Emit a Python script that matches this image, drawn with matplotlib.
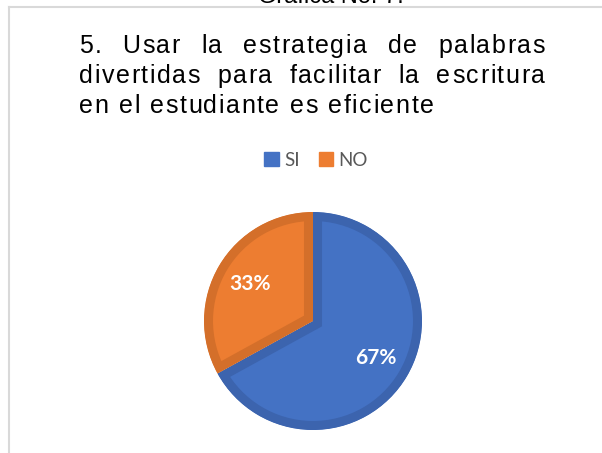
import matplotlib
matplotlib.use("Agg")
import matplotlib.pyplot as plt
from matplotlib.patches import Patch
from matplotlib.lines import Line2D

# data
labels = ["SI", "NO"]
values = [67, 33]
colors = ["#4472C4", "#ED7D31"]
edge_colors = ["#3C64AE", "#D46F2A"]
title_lines = ["5. Usar la estrategia de palabras",
               "divertidas para facilitar la escritura",
               "en el estudiante es eficiente"]
top_caption = "Gráfica No. 7."

W, H = 602, 453
fig = plt.figure(figsize=(W / 100, H / 100), dpi=100)
fig.patch.set_facecolor("white")

def fx(px):
    return px / W

def fy(py):
    return 1 - py / H

# chart border (top and left visible)
fig.add_artist(Line2D([fx(9), 1], [fy(6.5), fy(6.5)], color="#D9D9D9", lw=1.5))
fig.add_artist(Line2D([fx(9), fx(9)], [fy(6.5), 0], color="#D9D9D9", lw=1.5))

# caption cut off at the top (as in the source image)
fig.text(fx(331), fy(3), top_caption, ha="center", va="baseline",
         fontsize=17, family="Liberation Sans", color="#000000")

# title: letter-spaced, first two lines justified
left, right = 79, 545
baselines = [53, 83, 113]
track = 1.6
fig.canvas.draw()
renderer = fig.canvas.get_renderer()

def char_texts(word):
    out = []
    for ch in word:
        t = fig.text(0, 0, ch, ha="left", va="baseline", fontsize=18,
                     family="Liberation Sans", color="#000000")
        out.append((t, t.get_window_extent(renderer).width))
    return out

space_w = fig.text(0, 0, "a a", fontsize=18, family="Liberation Sans").get_window_extent(renderer).width
space_w -= 2 * fig.text(0, 0, "a", fontsize=18, family="Liberation Sans").get_window_extent(renderer).width
for t in fig.texts[-2:]:
    t.set_visible(False)

for i, line in enumerate(title_lines):
    words = [char_texts(w) for w in line.split(" ")]
    wwidths = [sum(w for _, w in cs) + track * (len(cs) - 1) for cs in words]
    if i == len(title_lines) - 1:
        gap = space_w + 2 * track
    else:
        gap = (right - left - sum(wwidths)) / (len(words) - 1)
    x = left
    for cs, ww in zip(words, wwidths):
        cx_ = x
        for t, w in cs:
            t.set_position((fx(cx_), fy(baselines[i])))
            cx_ += w + track
        x += ww + gap

# legend
handles = [Patch(facecolor=c, edgecolor=c, label=l) for c, l in zip(colors, labels)]
leg = fig.legend(handles=handles, loc="center", bbox_to_anchor=(fx(316), fy(160)),
                 ncol=2, frameon=False, handlelength=0.75, handleheight=0.75,
                 handletextpad=0.3, columnspacing=1.0,
                 prop={"family": "Lato", "size": 13.5})
for t in leg.get_texts():
    t.set_color("#595959")

# pie
cx, cy, R = 313, 321, 109
half = R * 1.25
ax = fig.add_axes([fx(cx - half), fy(cy + half), 2 * half / W, 2 * half / H])
wedges, _, autotexts = ax.pie(values, colors=colors, startangle=90, counterclock=False,
                              autopct="%1.0f%%", pctdistance=0.67,
                              textprops={"color": "white", "fontsize": 15,
                                         "fontweight": "bold", "family": "Lato"})
ax.set_xlim(-1.25, 1.25)
ax.set_ylim(-1.25, 1.25)
ax.set_aspect("equal")
ax.axis("off")
# darker inner border: stroke clipped to the wedge itself
for wdg, ec in zip(wedges, edge_colors):
    wdg.set_edgecolor(ec)
    wdg.set_linewidth(13)
    wdg.set_clip_on(True)
    wdg.set_clip_path(wdg)

fig.savefig("out.png", dpi=100, facecolor="white")
